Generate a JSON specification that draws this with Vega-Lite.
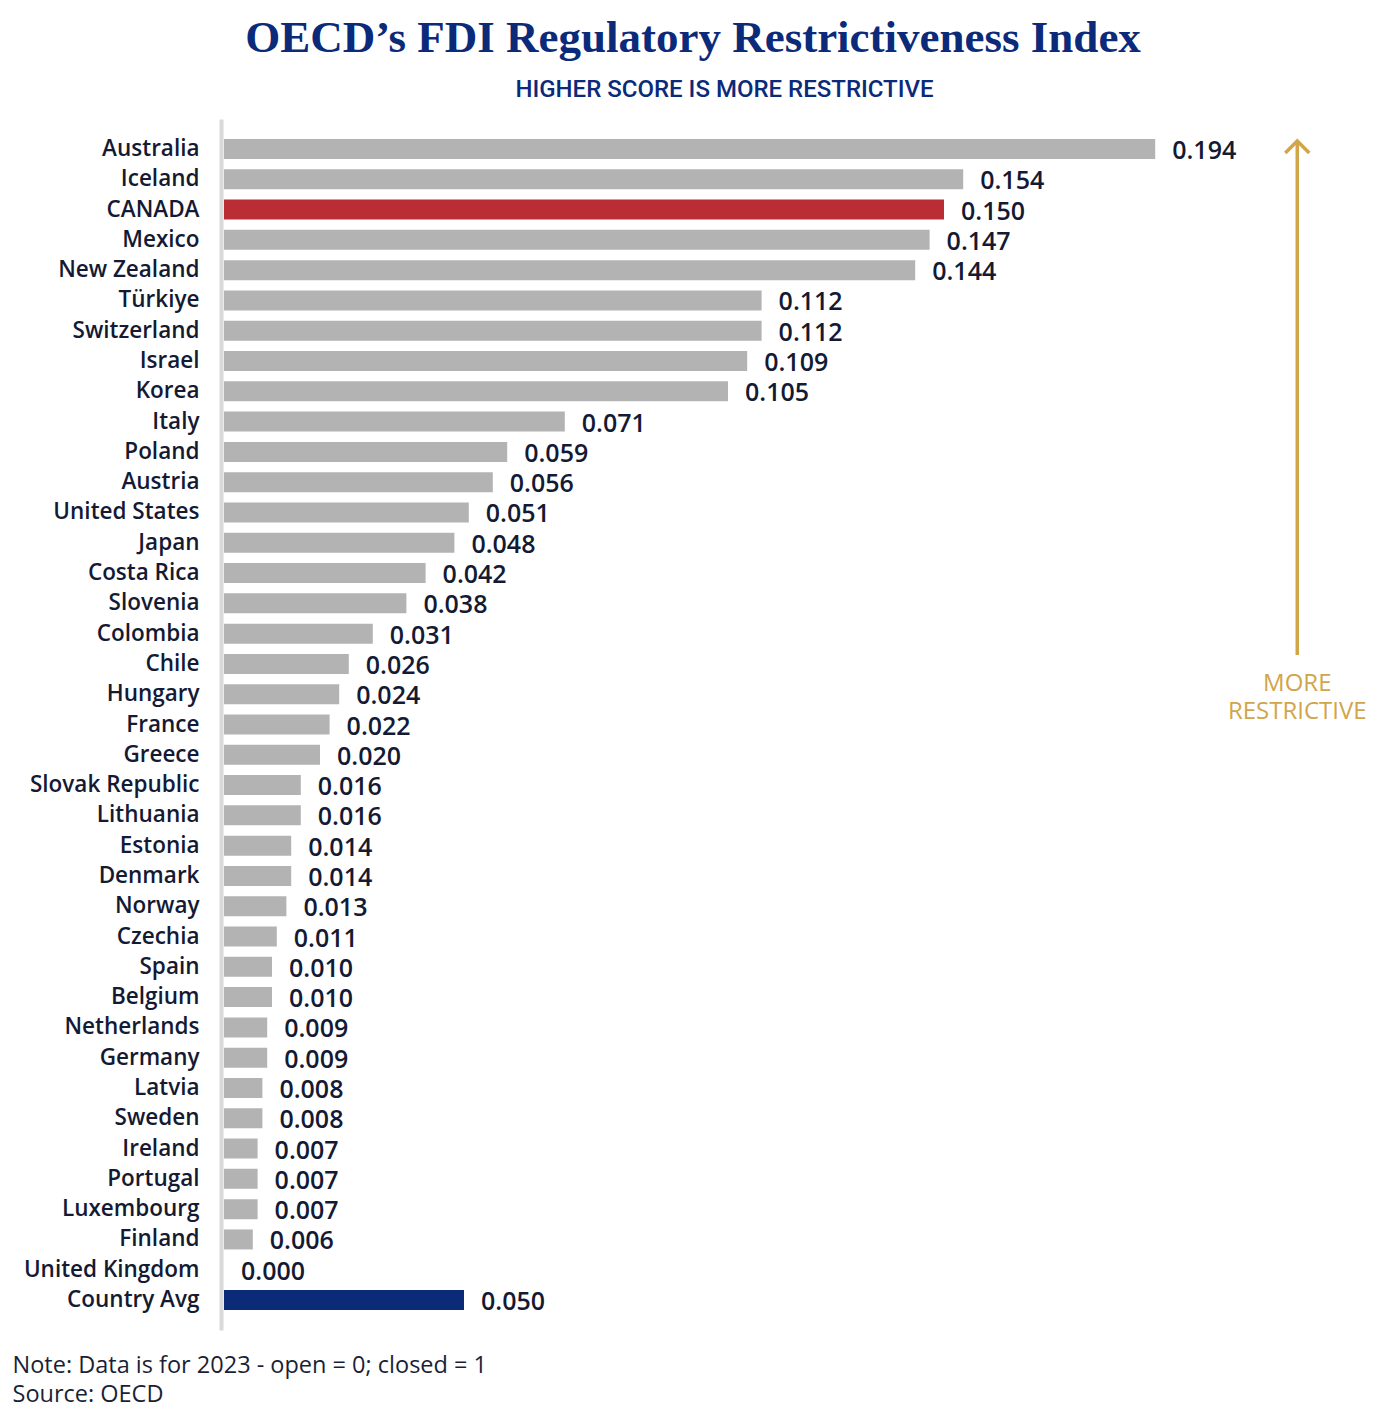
{
  "$schema": "https://vega.github.io/schema/vega-lite/v6.json",
  "width": 1140,
  "height": 1211,
  "autosize": {"type": "none"},
  "padding": {"left": 224, "top": 119, "right": 36, "bottom": 80},
  "background": "white",
  "title": {
    "text": "OECD’s FDI Regulatory Restrictiveness Index",
    "font": "Liberation Serif",
    "fontSize": 45,
    "fontWeight": "bold",
    "color": "#0b2a7a",
    "anchor": "middle",
    "frame": "group",
    "dx": -101,
    "offset": 16
  },
  "data": {
    "values": [
      {"country": "Australia", "value": 0.194, "group": "OECD"},
      {"country": "Iceland", "value": 0.154, "group": "OECD"},
      {"country": "CANADA", "value": 0.150, "group": "Canada"},
      {"country": "Mexico", "value": 0.147, "group": "OECD"},
      {"country": "New Zealand", "value": 0.144, "group": "OECD"},
      {"country": "Türkiye", "value": 0.112, "group": "OECD"},
      {"country": "Switzerland", "value": 0.112, "group": "OECD"},
      {"country": "Israel", "value": 0.109, "group": "OECD"},
      {"country": "Korea", "value": 0.105, "group": "OECD"},
      {"country": "Italy", "value": 0.071, "group": "OECD"},
      {"country": "Poland", "value": 0.059, "group": "OECD"},
      {"country": "Austria", "value": 0.056, "group": "OECD"},
      {"country": "United States", "value": 0.051, "group": "OECD"},
      {"country": "Japan", "value": 0.048, "group": "OECD"},
      {"country": "Costa Rica", "value": 0.042, "group": "OECD"},
      {"country": "Slovenia", "value": 0.038, "group": "OECD"},
      {"country": "Colombia", "value": 0.031, "group": "OECD"},
      {"country": "Chile", "value": 0.026, "group": "OECD"},
      {"country": "Hungary", "value": 0.024, "group": "OECD"},
      {"country": "France", "value": 0.022, "group": "OECD"},
      {"country": "Greece", "value": 0.020, "group": "OECD"},
      {"country": "Slovak Republic", "value": 0.016, "group": "OECD"},
      {"country": "Lithuania", "value": 0.016, "group": "OECD"},
      {"country": "Estonia", "value": 0.014, "group": "OECD"},
      {"country": "Denmark", "value": 0.014, "group": "OECD"},
      {"country": "Norway", "value": 0.013, "group": "OECD"},
      {"country": "Czechia", "value": 0.011, "group": "OECD"},
      {"country": "Spain", "value": 0.010, "group": "OECD"},
      {"country": "Belgium", "value": 0.010, "group": "OECD"},
      {"country": "Netherlands", "value": 0.009, "group": "OECD"},
      {"country": "Germany", "value": 0.009, "group": "OECD"},
      {"country": "Latvia", "value": 0.008, "group": "OECD"},
      {"country": "Sweden", "value": 0.008, "group": "OECD"},
      {"country": "Ireland", "value": 0.007, "group": "OECD"},
      {"country": "Portugal", "value": 0.007, "group": "OECD"},
      {"country": "Luxembourg", "value": 0.007, "group": "OECD"},
      {"country": "Finland", "value": 0.006, "group": "OECD"},
      {"country": "United Kingdom", "value": 0.000, "group": "OECD"},
      {"country": "Country Avg", "value": 0.050, "group": "Average"}
    ]
  },
  "encoding": {
    "y": {
      "field": "country",
      "type": "nominal",
      "sort": null,
      "scale": {"paddingInner": 0.34, "paddingOuter": 0.66},
      "axis": {
        "title": "HIGHER SCORE IS MORE RESTRICTIVE",
        "titleAngle": 0,
        "titleX": 503,
        "titleY": -30,
        "titleAlign": "center",
        "titleBaseline": "middle",
        "titleFont": "Roboto",
        "titleFontSize": 24,
        "titleFontWeight": 500,
        "titleColor": "#0b2a7a",
        "offset": 3,
        "domainColor": "#d9d9d9",
        "domainWidth": 4,
        "ticks": false,
        "tickSize": 0,
        "labelPadding": 22,
        "labelFont": "Open Sans",
        "labelFontSize": 22.5,
        "labelFontWeight": 600,
        "labelColor": "#141a33",
        "labelLimit": 400
      }
    }
  },
  "layer": [
    {
      "mark": {"type": "bar"},
      "encoding": {
        "x": {
          "field": "value",
          "type": "quantitative",
          "scale": {"domain": [0, 0.2375], "nice": false, "zero": true},
          "axis": {
            "title": ["Note: Data is for 2023 - open = 0; closed = 1", "Source: OECD"],
            "titleX": -212,
            "titleY": 42,
            "titleAnchor": "start",
            "titleAlign": "left",
            "titleBaseline": "alphabetic",
            "titleFont": "Open Sans",
            "titleFontSize": 23.5,
            "titleFontWeight": "normal",
            "titleColor": "#1a1f36",
            "titleLineHeight": 29,
            "labels": false,
            "ticks": false,
            "domain": false,
            "grid": false
          }
        },
        "color": {
          "field": "group",
          "type": "nominal",
          "scale": {"domain": ["OECD", "Canada", "Average"], "range": ["#b3b3b3", "#bb2d34", "#0b2a78"]},
          "legend": null
        }
      }
    },
    {
      "mark": {"type": "text", "align": "left", "baseline": "middle", "dx": 17, "dy": 2, "font": "Open Sans", "fontWeight": 600, "fontSize": 25, "color": "#141a33"},
      "encoding": {
        "x": {"field": "value", "type": "quantitative"},
        "text": {"field": "value", "type": "quantitative", "format": ".3f"}
      }
    },
    {
      "data": {"values": [{"label": "MORE\nRESTRICTIVE"}]},
      "mark": {"type": "rule", "color": "#d1a54a", "strokeWidth": 3.5, "yOffset": -6, "y2Offset": -9},
      "encoding": {
        "x": {"datum": 0.2236, "type": "quantitative"},
        "y": {"datum": "Australia", "type": "nominal"},
        "y2": {"datum": "Chile"}
      }
    },
    {
      "data": {"values": [{"label": "MORE\nRESTRICTIVE"}]},
      "mark": {"type": "point", "shape": "M-1,0.5L0,-0.5L1,0.5", "filled": false, "stroke": "#d1a54a", "strokeWidth": 3.5, "size": 576, "opacity": 1, "yOffset": -2},
      "encoding": {
        "x": {"datum": 0.2236, "type": "quantitative"},
        "y": {"datum": "Australia", "type": "nominal"}
      }
    },
    {
      "data": {"values": [{"label": "MORE\nRESTRICTIVE"}]},
      "mark": {"type": "text", "align": "center", "baseline": "middle", "lineBreak": "\n", "lineHeight": 28, "dy": -10, "font": "Open Sans", "fontWeight": 500, "fontSize": 24, "color": "#d1a54a"},
      "encoding": {
        "x": {"datum": 0.2236, "type": "quantitative"},
        "y": {"datum": "Hungary", "type": "nominal"},
        "text": {"field": "label"}
      }
    }
  ],
  "config": {"view": {"stroke": null}}
}
